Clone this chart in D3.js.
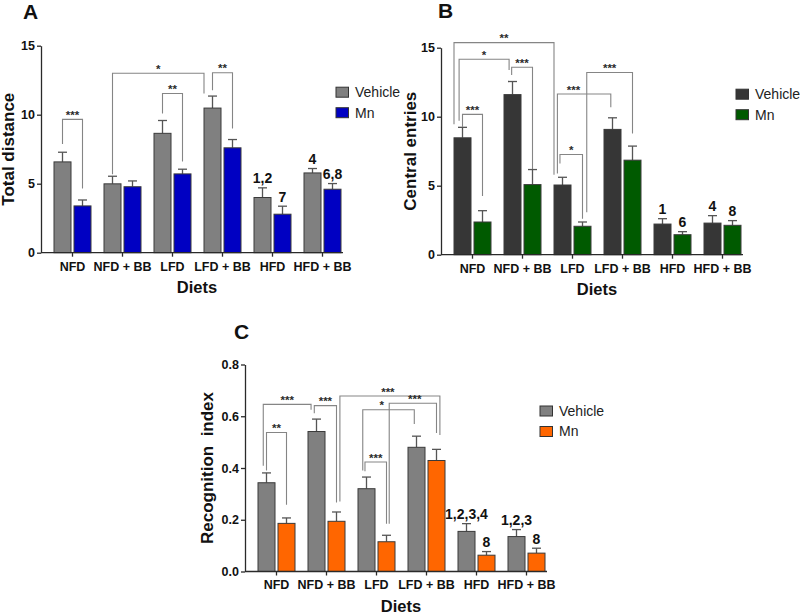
<!DOCTYPE html>
<html><head><meta charset="utf-8">
<script src="https://cdn.jsdelivr.net/npm/d3@7"></script>
<style>
body{margin:0;background:#fff}
text{font-family:"Liberation Sans",Arial,Helvetica,sans-serif}
</style></head><body>
<svg id="chart" width="800" height="615"></svg>
<script>
// ---------- shared categories ----------
const diets = ["NFD", "NFD + BB", "LFD", "LFD + BB", "HFD", "HFD + BB"];
const seriesNames = ["Vehicle", "Mn"];

// ---------- Panel A : Total distance ----------
const distVehicle    = [6.58, 4.99, 8.65, 10.48, 4.00, 5.78];
const distVehicleErr = [7.28, 5.54, 9.58, 11.35, 4.70, 6.10];
const distMn         = [3.39, 4.78, 5.71, 7.60, 2.79, 4.60];
const distMnErr      = [3.82, 5.20, 6.05, 8.20, 3.37, 5.01];
const distLabelsVehicle = ["", "", "", "", "1,2", "4"];
const distLabelsMn      = ["", "", "", "", "7", "6,8"];
const distTicks = [0, 5, 10, 15];
// brackets: [group, series, frac] for each leg, line value, leg-end values, stars, label position
const distBrackets = [
  {a:[0,0,0.5], b:[0,1,0.5], y:9.66, ya:7.87, yb:4.66, txt:"***", t:0.5},
  {a:[1,0,0.5], b:[3,0,0.0], y:13.0, ya:5.69, yb:11.54, txt:"*", t:0.5},
  {a:[2,0,0.5], b:[2,1,0.5], y:11.54, ya:10.09, yb:6.6, txt:"**", t:0.5},
  {a:[3,0,0.5], b:[3,1,0.5], y:13.04, ya:11.78, yb:9.0, txt:"**", t:0.5}
];

// ---------- Panel B : Central entries ----------
const entriesVehicle    = [8.47, 11.60, 5.05, 9.08, 2.22, 2.29];
const entriesVehicleErr = [9.23, 12.55, 5.61, 9.92, 2.61, 2.83];
const entriesMn         = [2.37, 5.08, 2.06, 6.85, 1.45, 2.13];
const entriesMnErr      = [3.19, 6.17, 2.37, 7.87, 1.67, 2.47];
const entriesLabelsVehicle = ["", "", "", "", "1", "4"];
const entriesLabelsMn      = ["", "", "", "", "6", "8"];
const entriesTicks = [0, 5, 10, 15];
const entriesBrackets = [
  {a:[0,0,0.0], b:[2,0,0.0], y:15.37, ya:9.46, yb:5.8, txt:"**", t:0.5},
  {a:[0,0,0.3], b:[1,0,0.3], y:14.16, ya:9.7, yb:13.38, txt:"*", t:0.5},
  {a:[1,0,0.45], b:[1,1,0.5], y:13.58, ya:13.02, yb:6.12, txt:"***", t:0.5},
  {a:[0,0,0.5], b:[0,1,0.5], y:10.17, ya:9.27, yb:4.26, txt:"***", t:0.5},
  {a:[2,0,0.2], b:[3,0,0.4], y:11.64, ya:5.88, yb:10.68, txt:"***", t:0.3},
  {a:[2,0,0.35], b:[2,1,0.5], y:7.26, ya:6.61, yb:2.61, txt:"*", t:0.5},
  {a:[2,1,0.75], b:[3,1,0.5], y:13.2, ya:3.07, yb:8.79, txt:"***", t:0.5}
];

// ---------- Panel C : Recognition index ----------
const recogVehicle    = [0.343, 0.541, 0.320, 0.480, 0.155, 0.135];
const recogVehicleErr = [0.381, 0.589, 0.365, 0.523, 0.185, 0.162];
const recogMn         = [0.186, 0.194, 0.115, 0.429, 0.063, 0.071];
const recogMnErr      = [0.207, 0.230, 0.140, 0.472, 0.077, 0.090];
const recogLabelsVehicle = ["", "", "", "", "1,2,3,4", "1,2,3"];
const recogLabelsMn      = ["", "", "", "", "8", "8"];
const recogTicks = [0, 0.2, 0.4, 0.6, 0.8];
const recogBrackets = [
  {a:[0,0,0.31], b:[1,0,0.18], y:0.646, ya:0.409, yb:0.625, txt:"***", t:0.5},
  {a:[0,0,0.5], b:[0,1,0.5], y:0.537, ya:0.39, yb:0.258, txt:"**", t:0.5},
  {a:[1,0,0.37], b:[1,1,0.5], y:0.641, ya:0.612, yb:0.267, txt:"***", t:0.5},
  {a:[1,1,0.7], b:[3,1,0.7], y:0.678, ya:0.271, yb:0.528, txt:"***", t:0.48},
  {a:[2,0,0.28], b:[3,0,0.37], y:0.625, ya:0.39, yb:0.57, txt:"*", t:0.37},
  {a:[2,1,0.66], b:[3,1,0.5], y:0.65, ya:0.185, yb:0.535, txt:"***", t:0.54},
  {a:[2,0,0.41], b:[2,1,0.5], y:0.423, ya:0.387, yb:0.185, txt:"***", t:0.5}
];

const svg = d3.select("#chart");
const H = 207;

const panels = [
  {letter:"A", lx:23, ly:18.5, ox:41, oy:45.7, max:15, ticks:distTicks, fmt:d3.format("d"),
   ytitle:"Total distance", tdx:-27,
   vals:[distVehicle, distMn], errs:[distVehicleErr, distMnErr],
   labels:[distLabelsVehicle, distLabelsMn], brackets:distBrackets,
   colors:["#808080", "#0000c2"]},
  {letter:"B", lx:438, ly:17.5, ox:441, oy:47.7, max:15, ticks:entriesTicks, fmt:d3.format("d"),
   ytitle:"Central entries", tdx:-25,
   vals:[entriesVehicle, entriesMn], errs:[entriesVehicleErr, entriesMnErr],
   labels:[entriesLabelsVehicle, entriesLabelsMn], brackets:entriesBrackets,
   colors:["#363636", "#005a00"]},
  {letter:"C", lx:234, ly:338.5, ox:245, oy:364.5, max:0.8, ticks:recogTicks, fmt:d3.format(".1f"),
   ytitle:"Recognition  index", tdx:-32,
   vals:[recogVehicle, recogMn], errs:[recogVehicleErr, recogMnErr],
   labels:[recogLabelsVehicle, recogLabelsMn], brackets:recogBrackets,
   colors:["#808080", "#ff6600"]}
];

panels.forEach(p => {
  svg.append("text").attr("x", p.lx).attr("y", p.ly)
    .attr("font-size", 21).attr("font-weight", "bold").attr("fill", "#111").text(p.letter);

  const g = svg.append("g").attr("transform", `translate(${p.ox},${p.oy})`);
  const x0 = d3.scaleBand().domain(diets).range([0, 313]).paddingInner(0.26).paddingOuter(0.26);
  const x1 = d3.scaleBand().domain(seriesNames).range([0, x0.bandwidth()]).paddingInner(0.15);
  const y = d3.scaleLinear().domain([0, p.max]).range([H, 0]);
  const bw = x1.bandwidth();
  const legX = (leg) => x0(diets[leg[0]]) + x1(seriesNames[leg[1]]) + bw * leg[2];

  // brackets (behind bars)
  const bg = g.append("g");
  p.brackets.forEach(b => {
    const xa = legX(b.a), xb = legX(b.b);
    bg.append("path")
      .attr("d", `M${xa},${y(b.ya)}V${y(b.y)}H${xb}V${y(b.yb)}`)
      .attr("fill", "none").attr("stroke", "#858585").attr("stroke-width", 1.1);
    bg.append("text").attr("x", xa + (xb - xa) * b.t).attr("y", y(b.y) - 0.5)
      .attr("text-anchor", "middle").attr("font-size", 11.5).attr("font-weight", "bold")
      .attr("fill", "#2a2a2a").text(b.txt);
  });

  // bars
  seriesNames.forEach((s, si) => {
    const sg = g.append("g");
    diets.forEach((d, i) => {
      const v = p.vals[si][i], e = p.errs[si][i];
      const cx = x0(d) + x1(s) + bw / 2;
      sg.append("line").attr("x1", cx).attr("x2", cx).attr("y1", y(v)).attr("y2", y(e))
        .attr("stroke", "#555").attr("stroke-width", 1.3);
      sg.append("line").attr("x1", cx - 4.5).attr("x2", cx + 4.5).attr("y1", y(e)).attr("y2", y(e))
        .attr("stroke", "#555").attr("stroke-width", 1.3);
      sg.append("rect").attr("x", x0(d) + x1(s)).attr("y", y(v))
        .attr("width", bw).attr("height", H - y(v))
        .attr("fill", p.colors[si]).attr("stroke", "#3a3a3a").attr("stroke-width", 1);
      const lab = p.labels[si][i];
      if (lab) {
        sg.append("text").attr("x", cx).attr("y", y(e) - 4.5)
          .attr("text-anchor", "middle").attr("font-size", 14).attr("font-weight", "bold")
          .attr("fill", "#111").text(lab);
      }
    });
  });

  // axes
  const ya = g.append("g").call(d3.axisLeft(y).tickValues(p.ticks).tickFormat(p.fmt)
    .tickSize(4).tickSizeOuter(0).tickPadding(2));
  const xa = g.append("g").attr("transform", `translate(0,${H})`)
    .call(d3.axisBottom(x0).tickSize(4).tickSizeOuter(0).tickPadding(5));
  xa.select(".domain").attr("d", "M0,0H302");
  [ya, xa].forEach(a => {
    a.selectAll("path,line").attr("stroke", "#2a2a2a").attr("stroke-width", 1.3);
    a.selectAll("text").attr("font-size", 12.5).attr("font-weight", "bold").attr("fill", "#111")
      .attr("font-family", '"Liberation Sans",Arial,sans-serif');
  });

  // titles
  g.append("text").attr("x", 156).attr("y", H + 40.5).attr("text-anchor", "middle")
    .attr("font-size", 16.5).attr("font-weight", "bold").attr("fill", "#111").text("Diets");
  g.append("text").attr("transform", `translate(${p.tdx},${H / 2}) rotate(-90)`)
    .attr("text-anchor", "middle").attr("font-size", 17).attr("font-weight", "bold")
    .attr("fill", "#111").style("white-space", "pre").text(p.ytitle);

  // legend
  const lg = g.append("g").attr("transform", "translate(295,41.5)");
  seriesNames.forEach((s, si) => {
    lg.append("rect").attr("x", 0).attr("y", si * 20.5).attr("width", 12.5).attr("height", 10)
      .attr("fill", p.colors[si]).attr("stroke", "#333").attr("stroke-width", 1);
    lg.append("text").attr("x", 19).attr("y", si * 20.5 + 5).attr("dy", "0.35em")
      .attr("font-size", 14).attr("fill", "#222").text(s);
  });
});
</script>
</body></html>
